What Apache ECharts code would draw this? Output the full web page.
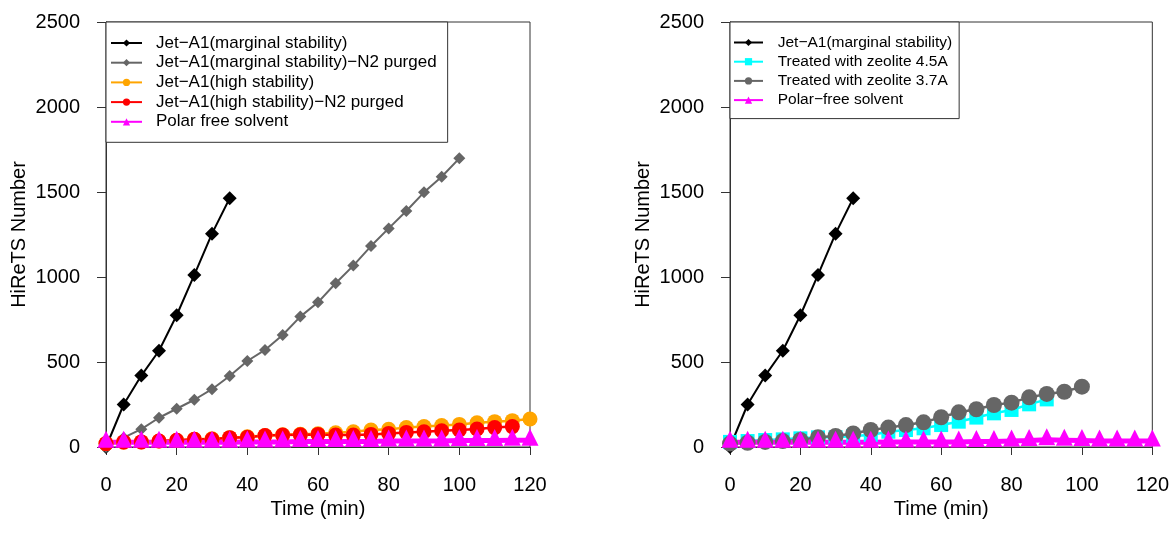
<!DOCTYPE html>
<html><head><meta charset="utf-8">
<script src="https://cdn.jsdelivr.net/npm/echarts@6/dist/echarts.min.js"></script>
<style>html,body{margin:0;padding:0;background:#fff}#c{width:1172px;height:546px}</style>
</head><body><div id="c"></div>
<script>
const FONT = "'Liberation Sans', Arial, sans-serif";

// ---- data ----
const xAxisTitle = 'Time (min)';
const yAxisTitle = 'HiReTS Number';

const tMarginal = [0, 5, 10, 15, 20, 25, 30, 35];
const jetMarginal = [0, 250, 420, 566, 775, 1012, 1255, 1463];

const t0to100 = [0, 5, 10, 15, 20, 25, 30, 35, 40, 45, 50, 55, 60, 65, 70, 75, 80, 85, 90, 95, 100];
const jetMarginalN2 = [0, 55, 105, 172, 225, 278, 340, 418, 506, 571, 659, 767, 851, 963, 1067, 1182, 1286, 1388, 1498, 1590, 1698];

const t0to120 = [0, 5, 10, 15, 20, 25, 30, 35, 40, 45, 50, 55, 60, 65, 70, 75, 80, 85, 90, 95, 100, 105, 110, 115, 120];
const jetHigh = [20, 28, 30, 35, 40, 45, 48, 55, 60, 68, 72, 75, 78, 84, 90, 100, 104, 114, 120, 126, 133, 143, 149, 155, 165];

const t0to115 = [0, 5, 10, 15, 20, 25, 30, 35, 40, 45, 50, 55, 60, 65, 70, 75, 80, 85, 90, 95, 100, 105, 110, 115];
const jetHighN2 = [20, 30, 30, 35, 40, 45, 45, 55, 57, 68, 70, 72, 74, 70, 70, 74, 80, 86, 90, 96, 100, 106, 114, 120];

const polarFreeLeft = [28, 28, 28, 28, 28, 28, 28, 28, 30, 30, 30, 32, 32, 32, 32, 32, 35, 35, 35, 35, 38, 38, 38, 40, 40];

const t0to90 = [0, 5, 10, 15, 20, 25, 30, 35, 40, 45, 50, 55, 60, 65, 70, 75, 80, 85, 90];
const zeolite45 = [30, 35, 41, 45, 51, 57, 57, 65, 71, 90, 100, 110, 129, 149, 173, 198, 218, 251, 280];
const zeolite37 = [20, 25, 30, 35, 41, 57, 65, 80, 100, 114, 129, 145, 175, 204, 222, 247, 261, 292, 312, 325, 355];
const polarFreeRight = [28, 28, 28, 28, 28, 28, 28, 28, 28, 30, 30, 30, 30, 30, 32, 32, 35, 38, 42, 40, 38, 35, 35, 35, 35];

const namesLeft = ['Jet\u2212A1(marginal stability)', 'Jet\u2212A1(marginal stability)\u2212N2 purged', 'Jet\u2212A1(high stability)', 'Jet\u2212A1(high stability)\u2212N2 purged', 'Polar free solvent'];
const namesRight = ['Jet\u2212A1(marginal stability)', 'Treated with zeolite 4.5A', 'Treated with zeolite 3.7A', 'Polar\u2212free solvent'];

// ---- helpers ----
function pairs(xs, ys) { return xs.map((x, i) => [x, ys[i]]); }
function mk(name, idx, xs, ys, color, symbol, size, lw, extra) {
  return Object.assign({
    name: name, type: 'line', xAxisIndex: idx, yAxisIndex: idx,
    data: pairs(xs, ys), symbol: symbol, symbolSize: size, showSymbol: true,
    lineStyle: { color: color, width: lw }, itemStyle: { color: color },
    emphasis: { disabled: true }, animation: false
  }, extra || {});
}
const AX = '#333';
function xAx(idx) {
  return {
    type: 'value', gridIndex: idx, min: 0, max: 120, interval: 20,
    name: xAxisTitle, nameLocation: 'middle', nameGap: 44,
    nameTextStyle: { fontFamily: FONT, fontSize: 20, color: '#000' },
    axisLine: { show: true, onZero: false, lineStyle: { color: AX, width: 1 } },
    axisTick: { show: true, inside: false, length: 8, lineStyle: { color: AX } },
    axisLabel: { fontFamily: FONT, fontSize: 20, color: '#000', margin: 28 },
    splitLine: { show: false }
  };
}
function yAx(idx) {
  return {
    type: 'value', gridIndex: idx, min: 0, max: 2500, interval: 500,
    name: yAxisTitle, nameLocation: 'middle', nameGap: 77,
    nameTextStyle: { fontFamily: FONT, fontSize: 20, color: '#000' },
    axisLine: { show: true, lineStyle: { color: AX, width: 1 } },
    axisTick: { show: true, inside: false, length: 9, lineStyle: { color: AX } },
    axisLabel: { fontFamily: FONT, fontSize: 20, color: '#000', margin: 26, formatter: v => String(v) },
    splitLine: { show: false }
  };
}
function legend(idx, names, left, fs, gap, pad, iw, tpad) {
  return {
    show: true, data: names, orient: 'vertical', left: left, top: 22,
    backgroundColor: '#fff', borderColor: AX, borderWidth: 1, borderRadius: 0,
    padding: pad, itemGap: gap, itemWidth: iw, itemHeight: 9,
    textStyle: { fontFamily: FONT, fontSize: fs, lineHeight: fs, color: '#000', padding: [0, 0, 0, tpad] },
    selectedMode: false
  };
}

const triOff = { symbolOffset: [0, -3] };

const option = {
  backgroundColor: '#fff',
  animation: false,
  grid: [
    { left: 106, top: 22, width: 424, height: 425, show: true, borderColor: AX, borderWidth: 1, backgroundColor: 'transparent' },
    { left: 730, top: 22, width: 424, height: 425, show: true, borderColor: AX, borderWidth: 1, backgroundColor: 'transparent' }
  ],
  xAxis: [xAx(0), xAx(1)],
  yAxis: [yAx(0), yAx(1)],
  legend: [
    legend(0, namesLeft, 106, 17, 2.7, [12.5, 11, 12, 4], 31, 9),
    legend(1, namesRight, 730, 15.5, 3.2, [12.5, 7, 10.5, 3], 29, 9.7)
  ],
  series: [
    mk(namesLeft[0], 0, tMarginal, jetMarginal, '#000000', 'diamond', 14, 2),
    mk(namesLeft[1], 0, t0to100, jetMarginalN2, '#666666', 'diamond', 12, 2),
    mk(namesLeft[2], 0, t0to120, jetHigh, '#FFA500', 'circle', 15, 2.5),
    mk(namesLeft[3], 0, t0to115, jetHighN2, '#FF0000', 'circle', 15, 2.5),
    mk(namesLeft[4], 0, t0to120, polarFreeLeft, '#FF00FF', 'triangle', 17, 5, triOff),
    mk(namesRight[0], 1, tMarginal, jetMarginal, '#000000', 'diamond', 14, 2),
    mk(namesRight[1], 1, t0to90, zeolite45, '#00FFFF', 'rect', 14, 2.5),
    mk(namesRight[2], 1, t0to100, zeolite37, '#666666', 'circle', 16, 2.5),
    mk(namesRight[3], 1, t0to120, polarFreeRight, '#FF00FF', 'triangle', 17, 5, triOff)
  ]
};
const chart = echarts.init(document.getElementById('c'), null, { renderer: 'canvas' });
chart.setOption(option);
</script>
</body></html>
